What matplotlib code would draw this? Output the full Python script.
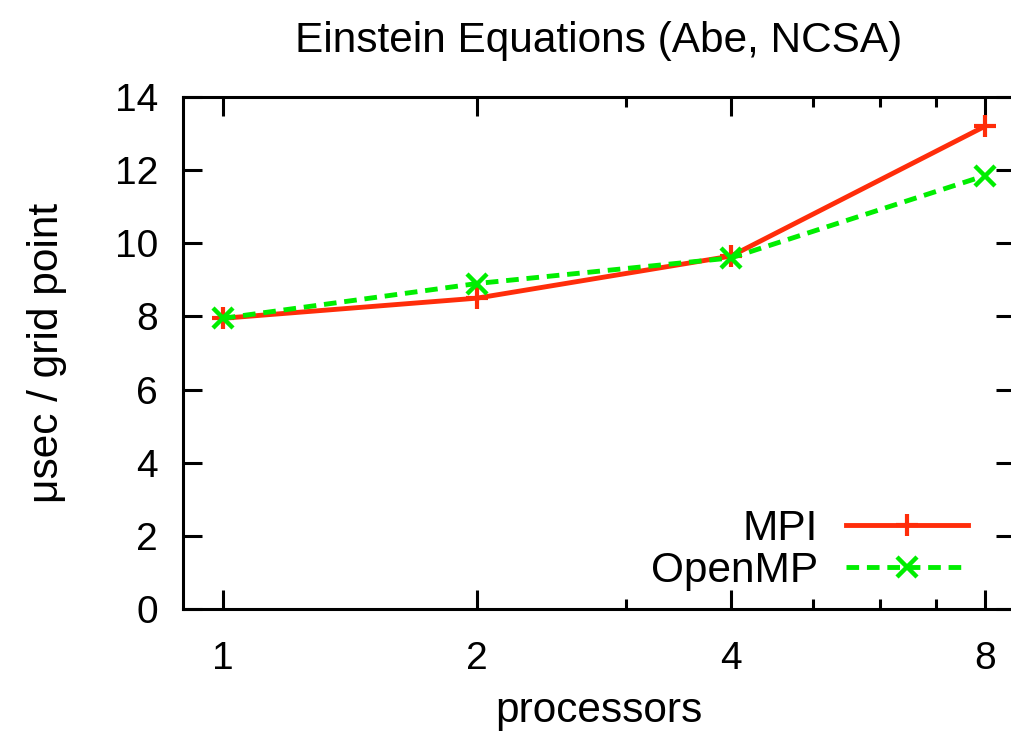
import matplotlib
matplotlib.use('Agg')
import matplotlib.pyplot as plt
from matplotlib.ticker import FixedLocator, NullFormatter

plt.rcParams['font.family'] = ['Liberation Sans', 'DejaVu Sans']

processors = [1, 2, 4, 8]
mpi = [7.95, 8.5, 9.65, 13.2]
openmp = [7.95, 8.9, 9.6, 11.85]
minor_ticks = [3, 5, 6, 7]
y_ticks = [0, 2, 4, 6, 8, 10, 12, 14]

red = '#ff2d0a'
green = '#00ee00'

fig = plt.figure(figsize=(10.11, 7.34), dpi=100)
ax = fig.add_axes([0.181, 0.170, 0.823, 0.698])

ax.plot(processors, mpi, color=red, lw=3.5, marker='+', ms=16, mew=3, label='MPI')
ax.plot(processors, openmp, color=green, lw=3.5, dashes=(2.6, 1.6), marker='x', ms=15,
        mew=3.2, label='OpenMP')

ax.set_xscale('log', base=2)
ax.set_xlim(0.897, 8.68)
ax.set_ylim(0, 14)
ax.xaxis.set_major_locator(FixedLocator(processors))
ax.xaxis.set_minor_locator(FixedLocator(minor_ticks))
ax.xaxis.set_minor_formatter(NullFormatter())
ax.set_xticklabels([str(p) for p in processors])
ax.set_yticks(y_ticks)

ax.tick_params(which='both', direction='in', top=True, right=True, labelsize=28, width=2.2)
ax.tick_params(which='major', length=14)
ax.tick_params(which='minor', length=7)
ax.tick_params(axis='x', which='major', pad=23)
ax.tick_params(axis='y', which='major', pad=18)
for s in ax.spines.values():
    s.set_linewidth(2.2)

ax.set_title('Einstein Equations (Abe, NCSA)', fontsize=30.5, pad=32)
# keep the label just inside the bottom edge
ax.set_xlabel('processors', fontsize=30.5, labelpad=10)
ax.set_ylabel('μsec / grid point', fontsize=30.5, labelpad=34)

ax.legend(loc='lower right', bbox_to_anchor=(0.9435, 0.035), frameon=False,
          markerfirst=False, handlelength=2.88, handletextpad=0.66,
          fontsize=30.5, labelspacing=0.06, borderpad=0, borderaxespad=0)

fig.savefig('out.png', dpi=100)
